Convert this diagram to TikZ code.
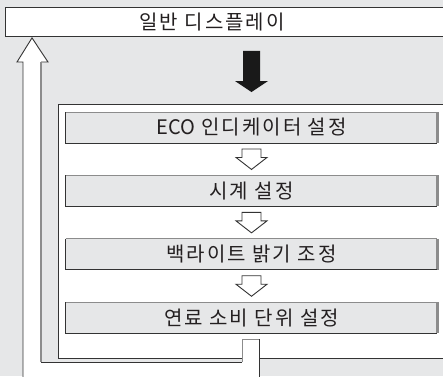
\documentclass[tikz,border=0pt]{standalone}
\usepackage{fontspec}
\setmainfont{Noto Sans CJK KR}
\usepackage{tikz}
\usetikzlibrary{calc,positioning}
\definecolor{bggray}{HTML}{E6E7E8}
\definecolor{edgedark}{HTML}{333333}
\definecolor{edgegray}{HTML}{8C8C8C}
\definecolor{textgray}{HTML}{231F20}
\newcommand{\tightlatin}[1]{{\addfontfeature{LetterSpace=0}#1}}
\newcommand{\stepedges}[1]{%
    \draw[edgegray, line width=2.4pt] (#1.north east) -- (#1.south east);
    \draw[edgegray] (#1.north west) -- (#1.north east);
    \draw[edgedark] (#1.north west) -- (#1.south west) -- (#1.south east);
}
\newcommand{\hollowarrow}[2]{%
    \draw[edgedark, fill=white] ($(#1.south)+(-9.5,-6)$) -- ($(#1.south)+(9.5,-6)$) -- ($(#2.north)+(9.5,18)$) -- ($(#2.north)+(15.5,18)$) -- ($(#2.north)+(0,6)$) -- ($(#2.north)+(-15.5,18)$) -- ($(#2.north)+(-9.5,18)$) -- cycle;
}
\newcommand{\stepfirst}[3]{%
    \node[stepbox] (#1) at (#3) {#2};
    \stepedges{#1}
}
\newcommand{\stepnext}[3]{%
    \node[stepbox, below=of #3] (#1) {#2};
    \stepedges{#1}
    \hollowarrow{#3}{#1}
}

\begin{document}
\begin{tikzpicture}[
            x=1pt, y=1pt,
            line width=0.9pt,
            node distance = 32.5pt and 0pt,
            labeltext/.style = {
                text=textgray,
                inner sep=0pt,
                font=\fontsize{20}{20}\selectfont\addfontfeature{LetterSpace=10},
            },
            stepbox/.style = {labeltext,
                fill=bggray,
                minimum width=371pt,
                minimum height=30pt,
            },
        ]
            \useasboundingbox (0,0) rectangle (443,-376);
            \clip (0,0) rectangle (443,-376);
            \fill[bggray] (0,0) rectangle (443,-376);
            % general display
            \node[fill=white, inner sep=0pt, anchor=north west, minimum width=470pt, minimum height=29pt] (disp) at (5,-7) {};
            \draw[edgedark] (disp.north east) -- (disp.north west) -- (disp.south west) -- (disp.south east);
            \node[labeltext] (disptext) at ($(disp.west)+(207,0)$) {일반 디스플레이};
            % settings frame
            \coordinate (frame) at (58,-104);
            \coordinate (framebot) at (58,-358);
            \coordinate (loopbot) at (41,-362);
            \coordinate (pagebot) at (23,-390);
            \fill[white] (frame) rectangle (470,-358);
            \draw[edgedark] (470,-104) -- (frame) -- (framebot);
            \stepfirst{s1}{\tightlatin{ECO} 인디케이터 설정}{251.5,-127.5}
            \stepnext{s2}{시계 설정}{s1}
            \stepnext{s3}{백라이트 밝기 조정}{s2}
            \stepnext{s4}{연료 소비 단위 설정}{s3}
            % return path
            \coordinate (tabl) at ($(s4.south)+(-9.5,-6)$);
            \coordinate (tabr) at ($(s4.south)+(7.5,-6)$);
            \coordinate (rettip) at ($(disp.south west)+(27,-1)$);
            \draw[edgedark] (framebot) -- (tabl |- framebot) (tabr |- framebot) -- (470,-358);
            \fill[white] (rettip) -- (48,-62) -- (41,-62) -- (loopbot) -- (tabl |- loopbot) -- (tabl) -- (tabr) -- (tabr |- pagebot) -- (pagebot) -- (23,-62) -- (17,-62) -- cycle;
            \draw[edgedark] (pagebot) -- (23,-62) -- (17,-62) -- (rettip) -- (48,-62) -- (41,-62);
            \draw[edgegray, line width=1.6pt] (41,-62) -- (loopbot);
            \draw[edgedark] (loopbot) -- (tabl |- loopbot);
            \draw[edgegray] (tabl |- loopbot) -- (tabl) -- (tabr);
            \draw[edgedark] (tabr) -- (tabr |- pagebot);
            % into the settings
            \coordinate (fromdisp) at (s1.north |- disp.south);
            \coordinate (toframe) at (s1.north |- frame);
            \fill[black!90] ($(fromdisp)+(-8.5,-14)$) -- ($(fromdisp)+(8.5,-14)$) -- ($(toframe)+(8.5,23)$) -- ($(toframe)+(16.5,23)$) -- ($(toframe)+(0,12)$) -- ($(toframe)+(-16.5,23)$) -- ($(toframe)+(-8.5,23)$) -- cycle;
        \end{tikzpicture}
\end{document}
